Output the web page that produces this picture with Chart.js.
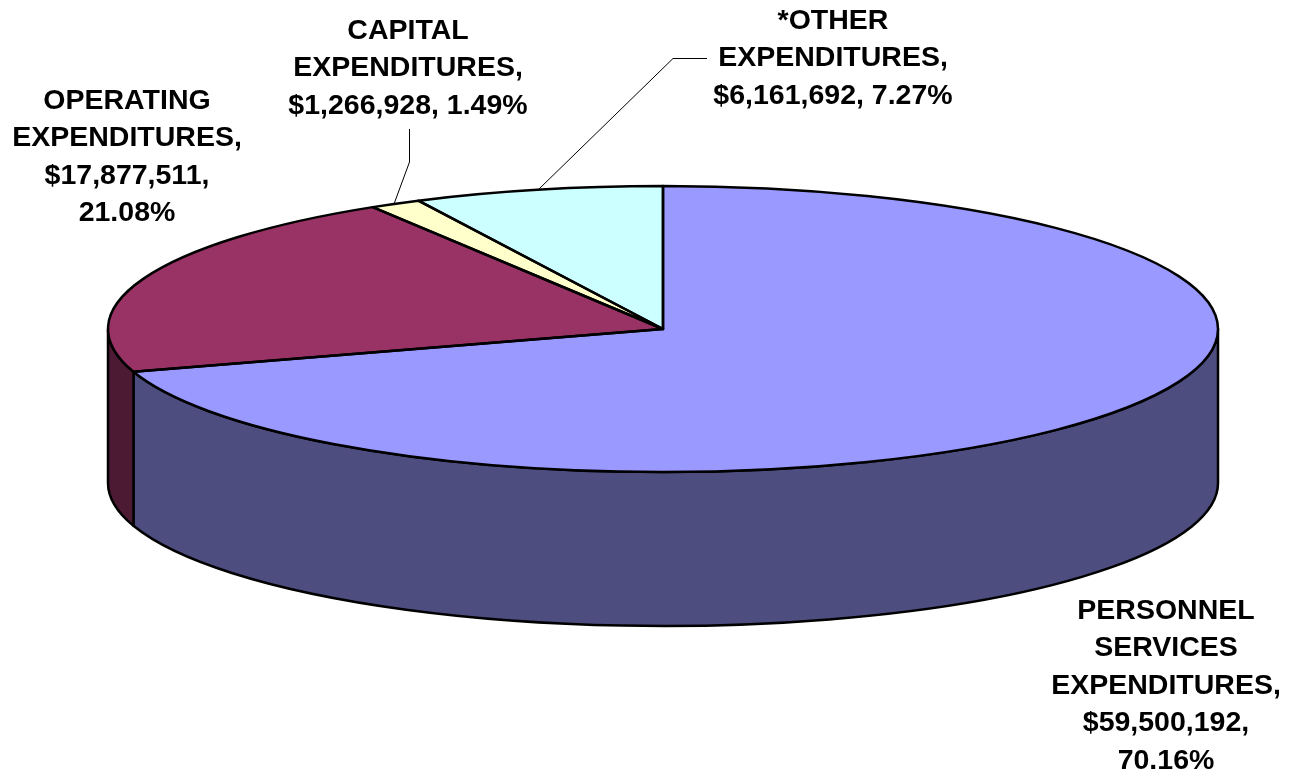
<!DOCTYPE html>
<html>
<head>
<meta charset="utf-8">
<title>Expenditures</title>
<script src="https://cdn.jsdelivr.net/npm/chart.js@4/dist/chart.umd.min.js"></script>
<style>
html, body { margin: 0; padding: 0; background: #fff; }
canvas { display: block; }
</style>
</head>
<body>
<canvas id="expenditureChart" width="1294" height="771"></canvas>
<script>
// Expenditure amounts, clockwise from twelve o'clock
var categories = ['PERSONNEL SERVICES EXPENDITURES', 'OPERATING EXPENDITURES', 'CAPITAL EXPENDITURES', '*OTHER EXPENDITURES'];
var amounts = [59500192, 17877511, 1266928, 6161692];
var percents = ['70.16%', '21.08%', '1.49%', '7.27%'];
var colors = ['#9999FF', '#993366', '#FFFFCC', '#CCFFFF'];
var wallColors = ['#4D4D80', '#4D1A33', '#80801A', '#668080'];

// How each label wraps
var nameLines = [
    ['PERSONNEL', 'SERVICES', 'EXPENDITURES,'],
    ['OPERATING', 'EXPENDITURES,'],
    ['CAPITAL', 'EXPENDITURES,'],
    ['*OTHER', 'EXPENDITURES,']
];
var splitValue = [true, true, false, false];

// Label centre x and first baseline y
var labelX = [1166, 127, 408, 833];
var labelY = [619, 109, 39, 29];
var lineHeight = 37.4;

// Disc geometry on the page
var disc = { x: 663, y: 329, rx: 555, ry: 143, depth: 154 };

function money(v) {
    return '$' + v.toLocaleString('en-US');
}

function labelFor(i) {
    if (splitValue[i]) {
        return nameLines[i].concat([money(amounts[i]) + ',', percents[i]]);
    }
    return nameLines[i].concat([money(amounts[i]) + ', ' + percents[i]]);
}

// Squash the round pie into a tilted disc and give it a side wall
var tiltPlugin = {
    id: 'tilt',
    beforeDatasetDraw: function (chart) {
        var ctx = chart.ctx;
        var arcs = chart.getDatasetMeta(0).data;
        var r = arcs[0].outerRadius;

        // side wall, only the part of each slice facing the viewer
        ctx.save();
        ctx.strokeStyle = '#000';
        ctx.lineWidth = 2.5;
        ctx.lineJoin = 'round';
        arcs.forEach(function (arc, i) {
            var from = Math.max(arc.startAngle, 0);
            var to = Math.min(arc.endAngle, Math.PI);
            if (to <= from) return;
            ctx.beginPath();
            ctx.ellipse(disc.x, disc.y, disc.rx, disc.ry, 0, from, to);
            ctx.ellipse(disc.x, disc.y + disc.depth, disc.rx, disc.ry, 0, to, from, true);
            ctx.closePath();
            ctx.fillStyle = wallColors[i];
            ctx.fill();
            ctx.stroke();
        });
        ctx.restore();

        ctx.save();
        ctx.translate(disc.x, disc.y);
        ctx.scale(disc.rx / r, disc.ry / r);
        ctx.translate(-arcs[0].x, -arcs[0].y);
    },
    afterDatasetDraw: function (chart) {
        var ctx = chart.ctx;
        ctx.restore();

        // slice outlines go on after the transform so the pen stays even
        ctx.save();
        ctx.strokeStyle = '#000';
        ctx.lineWidth = 2.5;
        ctx.lineJoin = 'round';
        chart.getDatasetMeta(0).data.forEach(function (arc) {
            ctx.beginPath();
            ctx.moveTo(disc.x, disc.y);
            ctx.ellipse(disc.x, disc.y, disc.rx, disc.ry, 0, arc.startAngle, arc.endAngle);
            ctx.closePath();
            ctx.stroke();
        });
        ctx.restore();
    },
    afterDraw: function (chart) {
        var ctx = chart.ctx;
        ctx.save();

        // leader lines
        ctx.strokeStyle = '#000';
        ctx.lineWidth = 1;
        ctx.beginPath();
        ctx.moveTo(409.5, 129);
        ctx.lineTo(409.5, 162);
        ctx.lineTo(394, 204);
        ctx.moveTo(707, 58.5);
        ctx.lineTo(673, 58.5);
        ctx.lineTo(539, 189);
        ctx.stroke();

        // slice labels
        ctx.fillStyle = '#000';
        ctx.font = 'bold 28.5px "Liberation Sans", Arial, sans-serif';
        ctx.textAlign = 'center';
        ctx.textBaseline = 'alphabetic';
        categories.forEach(function (name, i) {
            labelFor(i).forEach(function (line, n) {
                ctx.fillText(line, labelX[i], labelY[i] + n * lineHeight);
            });
        });
        ctx.restore();
    }
};

new Chart(document.getElementById('expenditureChart').getContext('2d'), {
    type: 'pie',
    data: {
        labels: categories,
        datasets: [{
            data: amounts,
            backgroundColor: colors,
            borderWidth: 0,
            clip: false
        }]
    },
    options: {
        responsive: false,
        animation: false,
        plugins: {
            legend: { display: false },
            tooltip: { enabled: false }
        }
    },
    plugins: [tiltPlugin]
});
</script>
</body>
</html>
